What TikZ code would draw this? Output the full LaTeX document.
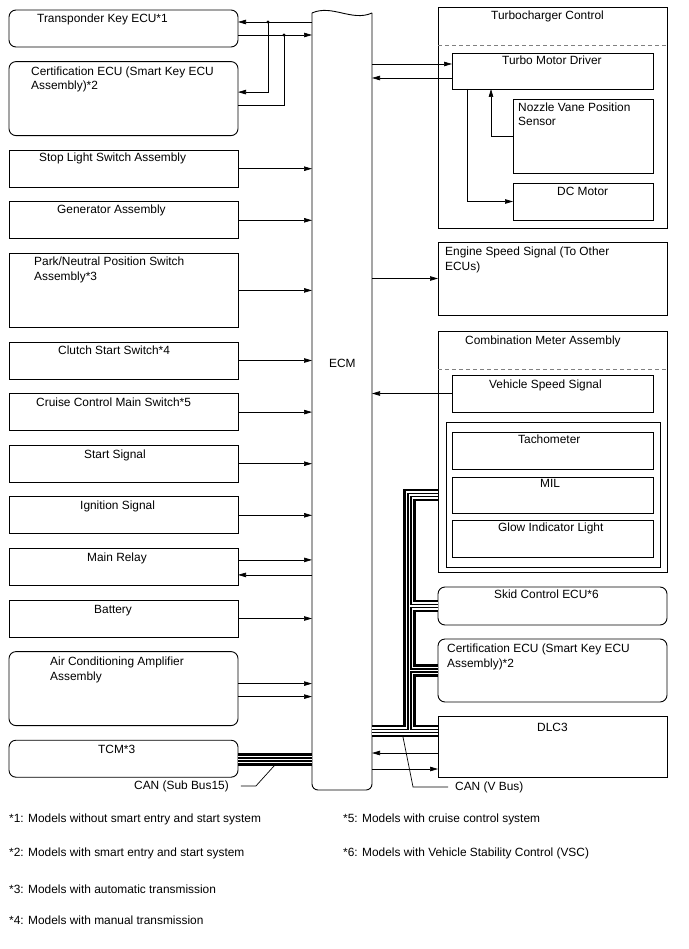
\documentclass[tikz,border=0pt]{standalone}
\usepackage{fontspec}
\setmainfont{Liberation Sans}
\usetikzlibrary{positioning,arrows.meta}

\begin{document}
\begin{tikzpicture}[x=1pt,y=-1pt]
  \tikzstyle{box}=[draw, rectangle, line width=0.9pt, minimum width=229pt, minimum height=37pt, inner sep=0pt, outer sep=0pt, anchor=north west]
  \tikzstyle{rbox}=[box, rounded corners=7pt]
  \tikzstyle{tall}=[minimum height=74pt]
  \tikzstyle{sub}=[draw, rectangle, line width=0.9pt, inner sep=0pt, outer sep=0pt, anchor=north west]
  \tikzstyle{txt}=[anchor=base west, inner sep=0pt, align=left, font=\fontsize{11.9}{14.3}\selectfont]
  \tikzstyle{arr}=[-{Triangle[length=8pt,width=4.5pt]}, line width=0.7pt]
  \tikzstyle{wire}=[line width=0.7pt]
  \tikzstyle{divider}=[dash pattern=on 4pt off 3pt, gray, line width=0.8pt]
  \useasboundingbox (0,0) rectangle (688,949);
  % \draw [step=50, blue!20] (0,0) grid (688,949);

  \node [rbox] (tkey) at (9,10) {};
  \node [rbox, tall, below=14.6pt of tkey] (cert1) {};
  \node [box, below=14.6pt of cert1] (stopsw) {};
  \node [box, below=14.6pt of stopsw] (gen) {};
  \node [box, tall, below=14.6pt of gen] (pnp) {};
  \node [box, below=14.6pt of pnp] (clutch) {};
  \node [box, below=14.6pt of clutch] (cruise) {};
  \node [box, below=14.6pt of cruise] (start) {};
  \node [box, below=14.6pt of start] (ign) {};
  \node [box, below=14.6pt of ign] (relay) {};
  \node [box, below=14.6pt of relay] (batt) {};
  \node [rbox, tall, below=14.6pt of batt] (ac) {};
  \node [rbox, below=14.6pt of ac] (tcm) {};

  \node [txt] (tkeyT) at (37,23) {Transponder Key ECU*1};
  \node [txt] (cert1T) at (31,90) {Certification ECU (Smart Key ECU\\Assembly)*2};
  \node [txt] (stopT) at (39,162) {Stop Light Switch Assembly};
  \node [txt] (genT) at (57,214) {Generator Assembly};
  \node [txt] (pnpT) at (34,280) {Park/Neutral Position Switch\\Assembly*3};
  \node [txt] (clutchT) at (58,354) {Clutch Start Switch*4};
  \node [txt] (cruiseT) at (36,406) {Cruise Control Main Switch*5};
  \node [txt] (startT) at (84,458) {Start Signal};
  \node [txt] (ignT) at (80,509) {Ignition Signal};
  \node [txt] (relayT) at (87,561) {Main Relay};
  \node [txt] (battT) at (94,613) {Battery};
  \node [txt] (acT) at (50,680) {Air Conditioning Amplifier\\Assembly};
  \node [txt] (tcmT) at (98,753) {TCM*3};

  \node [minimum width=60pt, minimum height=777pt, inner sep=0pt, outer sep=0pt, anchor=north west] (ecm) at (312,13) {};
  \draw [line width=0.9pt, rounded corners=6pt] (ecm.north east) -- (ecm.south east) -- (ecm.south west) -- (ecm.north west);
  \draw [line width=0.9pt] (ecm.north west) .. controls +(20,-9) and +(-20,9) .. (ecm.north east);
  \node [txt] (ecmT) at (329,367) {ECM};

  \node [box, minimum height=221pt] (turbo) at (438,7) {};
  \draw [divider] ([yshift=-38pt]turbo.north west) -- ([yshift=-38pt]turbo.north east);
  \node [sub, minimum width=201pt, minimum height=36pt] (tmd) at (452,53) {};
  \node [sub, minimum width=140pt, minimum height=74pt] (nvps) at (513,99) {};
  \node [sub, minimum width=140pt, minimum height=37pt] (dcm) at (513,183) {};
  \node [box, minimum height=73pt] (esig) at (438,242) {};
  \node [box, minimum height=241pt] (meter) at (438,331) {};
  \draw [divider] ([yshift=-38pt]meter.north west) -- ([yshift=-38pt]meter.north east);
  \node [sub, minimum width=201pt, minimum height=37pt] (vss) at (452,375) {};
  \node [sub, minimum width=214pt, minimum height=145pt] (mgrp) at (446,422) {};
  \node [sub, minimum width=201pt, minimum height=37pt] (tach) at (452,432) {};
  \node [sub, minimum width=201pt, minimum height=36pt] (mil) at (452,477) {};
  \node [sub, minimum width=201pt, minimum height=37pt] (glow) at (452,520) {};
  \node [rbox, minimum height=38pt] (skid) at (438,587) {};
  \node [rbox, minimum height=63pt] (cert2) at (438,639) {};
  \node [box, minimum height=61pt] (dlc) at (438,716) {};

  \node [txt] (turboT) at (491,20) {Turbocharger Control};
  \node [txt] (tmdT) at (502,65) {Turbo Motor Driver};
  \node [txt] (nvpsT) at (518,126) {Nozzle Vane Position\\Sensor};
  \node [txt] (dcmT) at (557,196) {DC Motor};
  \node [txt] (esigT) at (445,270) {Engine Speed Signal (To Other\\ECUs)};
  \node [txt] (meterT) at (465,344) {Combination Meter Assembly};
  \node [txt] (vssT) at (489,388) {Vehicle Speed Signal};
  \node [txt] (tachT) at (518,443) {Tachometer};
  \node [txt] (milT) at (540,487) {MIL};
  \node [txt] (glowT) at (498,531) {Glow Indicator Light};
  \node [txt] (skidT) at (494,598) {Skid Control ECU*6};
  \node [txt] (cert2T) at (447,667) {Certification ECU (Smart Key ECU\\Assembly)*2};
  \node [txt] (dlcT) at (537,731) {DLC3};

  \coordinate (j1) at (268,22);
  \coordinate (j2) at (284,35);
  \draw [arr] ([yshift=6.5pt]tkey.east -| ecm.west) -- ([yshift=6.5pt]tkey.east);
  \draw [arr] ([yshift=-6.5pt]tkey.east) -- ([yshift=-6.5pt]tkey.east -| ecm.west);
  \draw [arr] (j1) |- ([yshift=6.5pt]cert1.east);
  \draw [wire] ([yshift=-6.5pt]cert1.east) -| (j2);
  \fill (j1) circle (1.6pt);
  \fill (j2) circle (1.6pt);
  \draw [arr] (stopsw) -- (stopsw -| ecm.west);
  \draw [arr] (gen) -- (gen -| ecm.west);
  \draw [arr] (pnp) -- (pnp -| ecm.west);
  \draw [arr] (clutch) -- (clutch -| ecm.west);
  \draw [arr] (cruise) -- (cruise -| ecm.west);
  \draw [arr] (start) -- (start -| ecm.west);
  \draw [arr] (ign) -- (ign -| ecm.west);
  \draw [arr] ([yshift=7pt]relay.east) -- ([yshift=7pt]relay.east -| ecm.west);
  \draw [arr] ([yshift=-8pt]relay.east -| ecm.west) -- ([yshift=-8pt]relay.east);
  \draw [arr] (batt) -- (batt -| ecm.west);
  \draw [arr] ([yshift=5pt]ac.east) -- ([yshift=5pt]ac.east -| ecm.west);
  \draw [arr] ([yshift=-8pt]ac.east) -- ([yshift=-8pt]ac.east -| ecm.west);

  \draw [arr] ([yshift=7pt]tmd.west -| ecm.east) -- ([yshift=7pt]tmd.west);
  \draw [arr] ([yshift=-7pt]tmd.west) -- ([yshift=-7pt]tmd.west -| ecm.east);
  \draw [arr] (nvps.west) -| ([xshift=-61.5pt]tmd.south);
  \draw [arr] ([xshift=-85.5pt]tmd.south) |- (dcm.west);
  \draw [arr] (esig.west -| ecm.east) -- (esig.west);
  \draw [arr] (vss.west) -- (vss.west -| ecm.east);
  \draw [arr] ([yshift=-6.5pt]dlc.west) -- ([yshift=-6.5pt]dlc.west -| ecm.east);
  \draw [arr] ([yshift=-22.5pt]dlc.west -| ecm.east) -- ([yshift=-22.5pt]dlc.west);

  \coordinate (vj) at (409.5,731);
  \coordinate (vt) at (409.5,495);
  \foreach \w/\c in {12.5/black, 7.5/white, 4.5/black, 1.5/white}
    \draw [line width=\w pt, \c] (ecm.east |- vj) -- (dlc.west |- vj)
      (vj) -- (vt) -- (vt -| meter.west)
      (vj |- skid.west) -- (skid.west)
      (vj |- cert2.west) -- (cert2.west)
      ([yshift=-1pt]tcm.east) -- ([yshift=-1pt]tcm.east -| ecm.west);

  \coordinate (subtap) at (274,766);
  \coordinate (vtap) at (403,737);
  \node [txt] (subT) at (134,789) {CAN (Sub Bus15)};
  \node [txt] (vbusT) at (455,790) {CAN (V Bus)};
  \draw [wire] ([xshift=12pt]subT.east) -- ++(15,0) -- (subtap);
  \draw [wire] ([xshift=-7pt]vbusT.west) -- ++(-35,0) -- (vtap);

  \node [txt] (fn1) at (9,822) {*1: Models without smart entry and start system};
  \node [txt] (fn2) at (9,856) {*2: Models with smart entry and start system};
  \node [txt] (fn3) at (9,893) {*3: Models with automatic transmission};
  \node [txt] (fn4) at (9,924) {*4: Models with manual transmission};
  \node [txt] (fn5) at (343,822) {*5: Models with cruise control system};
  \node [txt] (fn6) at (343,856) {*6: Models with Vehicle Stability Control (VSC)};
\end{tikzpicture}
\end{document}
